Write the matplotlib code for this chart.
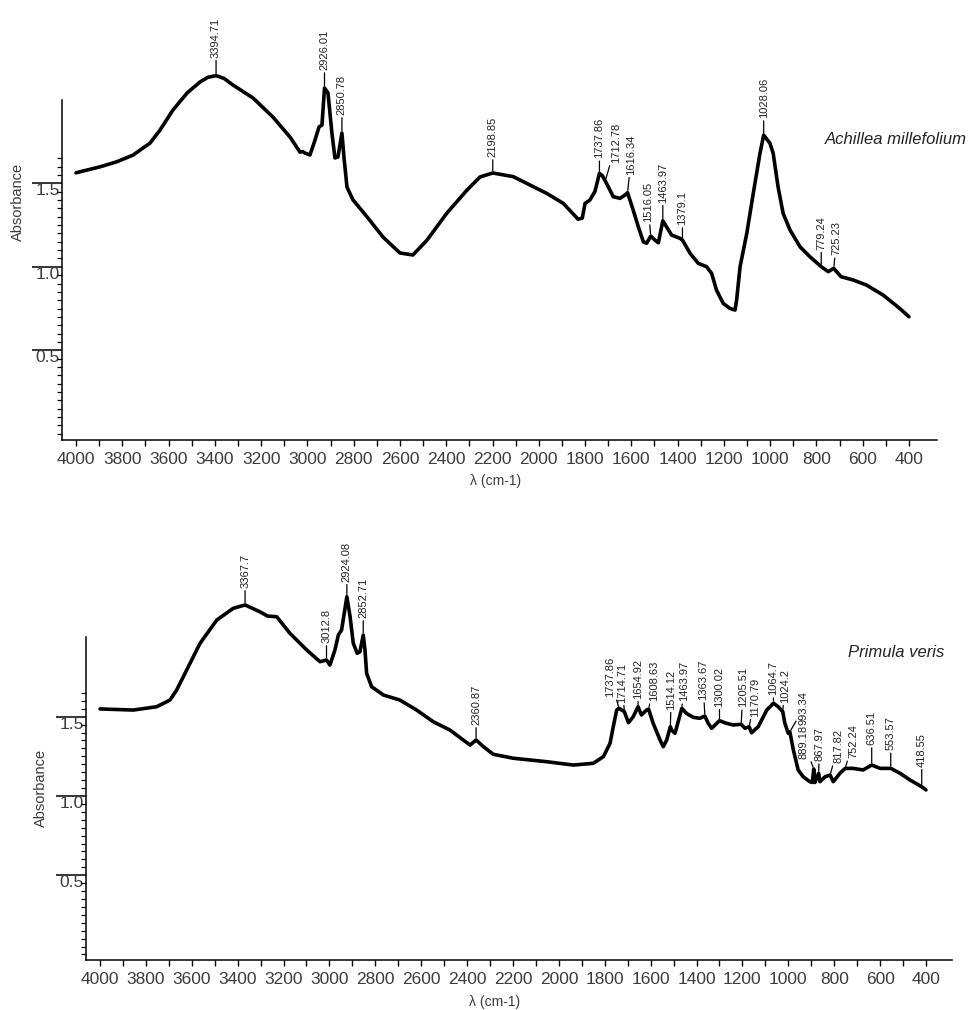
import numpy as np
import matplotlib.pyplot as plt
from matplotlib.ticker import FixedLocator

plt.rcParams['font.family'] = ['Liberation Sans', 'DejaVu Sans']

# FTIR absorbance, Achillea millefolium (wavenumber cm-1, absorbance)
achillea_wn = [4000, 3896, 3824, 3754, 3680, 3637, 3581, 3520, 3464, 3430, 3394.71, 3360,
               3322, 3235, 3149, 3075, 3032, 3020, 3010, 2989, 2967, 2950, 2937, 2926.01,
               2911, 2894, 2881, 2868, 2850.78, 2842, 2829, 2803, 2742, 2673, 2600, 2544,
               2483, 2397, 2310, 2254, 2198.85, 2110, 1966, 1894, 1830, 1812, 1800, 1779,
               1757, 1737.86, 1725, 1712.78, 1700, 1678, 1649, 1627, 1616.34, 1592, 1570,
               1548, 1534, 1516.05, 1498, 1483, 1463.97, 1448, 1426, 1390, 1379.1, 1346,
               1311, 1275, 1253, 1232, 1203, 1174, 1152, 1145, 1130, 1101, 1073, 1044,
               1028.06, 1001, 987, 966, 944, 914, 871, 828, 779.24, 749, 725.23, 694, 641,
               584, 512, 440, 400]
achillea_abs = [1.563, 1.599, 1.629, 1.669, 1.741, 1.819, 1.939, 2.041, 2.107, 2.135, 2.145, 2.128,
                2.089, 2.011, 1.897, 1.777, 1.687, 1.690, 1.681, 1.670, 1.759, 1.837, 1.849, 2.071,
                2.041, 1.801, 1.652, 1.658, 1.801, 1.658, 1.478, 1.401, 1.299, 1.178, 1.083, 1.071,
                1.160, 1.322, 1.460, 1.538, 1.562, 1.540, 1.440, 1.380, 1.285, 1.292, 1.380, 1.400,
                1.452, 1.560, 1.545, 1.514, 1.480, 1.420, 1.410, 1.430, 1.444, 1.340, 1.240,
                1.150, 1.141, 1.184, 1.160, 1.144, 1.276, 1.240, 1.190, 1.171, 1.160, 1.081,
                1.021, 1.001, 0.961, 0.861, 0.781, 0.751, 0.741, 0.801, 1.001, 1.201, 1.440, 1.680,
                1.789, 1.740, 1.680, 1.480, 1.320, 1.220, 1.120, 1.060, 1.001, 0.971, 0.991, 0.941, 0.921,
                0.891, 0.831, 0.751, 0.701]
achillea_peaks = [3394.71, 2926.01, 2850.78, 2198.85, 1737.86, 1712.78, 1616.34, 1516.05,
                  1463.97, 1379.1, 1028.06, 779.24, 725.23]

# FTIR absorbance, Primula veris
primula_wn = [4000, 3855, 3753, 3695, 3666, 3622, 3564, 3491, 3419, 3367.7, 3303, 3270, 3230,
              3172, 3099, 3041, 3012.8, 2998, 2976, 2961, 2947, 2924.08, 2910, 2896, 2879,
              2867, 2852.71, 2845, 2838, 2816, 2765, 2693, 2620, 2547, 2475, 2387, 2360.87,
              2329, 2286, 2199, 2053, 1937, 1850, 1806, 1777, 1763, 1748, 1737.86, 1714.71,
              1697, 1676, 1654.92, 1640, 1618, 1608.63, 1589, 1559, 1545, 1530, 1514.12, 1509,
              1494, 1463.97, 1444, 1414, 1386, 1363.67, 1349, 1334, 1300.02, 1269, 1240,
              1205.51, 1189, 1170.79, 1160, 1131, 1094, 1064.7, 1044, 1024.2, 1015, 1000,
              993.34, 978, 957, 935, 906, 895, 889.18, 884, 867.97, 862, 840, 817.82, 804,
              775, 752.24, 717, 674, 636.51, 600, 553.57, 513, 470, 418.55, 400]
primula_abs = [1.549, 1.542, 1.563, 1.605, 1.668, 1.795, 1.963, 2.110, 2.184, 2.205, 2.162, 2.135, 2.131,
               2.026, 1.921, 1.847, 1.858, 1.826, 1.921, 2.016, 2.047, 2.257, 2.131, 1.963, 1.900,
               1.910, 2.015, 1.921, 1.774, 1.689, 1.637, 1.605, 1.542, 1.468, 1.416, 1.321, 1.353,
               1.311, 1.263, 1.238, 1.216, 1.195, 1.206, 1.248, 1.332, 1.437, 1.542, 1.553, 1.532,
               1.462, 1.500, 1.563, 1.511, 1.542, 1.547, 1.458, 1.353, 1.311, 1.353, 1.437, 1.416,
               1.395, 1.553, 1.521, 1.496, 1.490, 1.504, 1.458, 1.427, 1.475, 1.458, 1.448,
               1.452, 1.427, 1.437, 1.399, 1.437, 1.542, 1.585, 1.563, 1.532, 1.458, 1.395,
               1.405, 1.290, 1.164, 1.121, 1.090, 1.085, 1.170, 1.085, 1.143, 1.090, 1.121, 1.132, 1.090,
               1.143, 1.174, 1.174, 1.164, 1.195, 1.174, 1.174, 1.143, 1.101, 1.058, 1.038]
primula_peaks = [3367.7, 3012.8, 2924.08, 2852.71, 2360.87, 1737.86, 1714.71, 1654.92, 1608.63,
                 1514.12, 1463.97, 1363.67, 1300.02, 1205.51, 1170.79, 1064.7, 1024.2, 993.34,
                 889.18, 867.97, 817.82, 752.24, 636.51, 553.57, 418.55]

x_major = list(range(4000, 399, -200))
x_minor = list(range(3900, 400, -200))
y_major = [0.5, 1.0, 1.5]
y_minor = [v for v in np.round(np.arange(0.0, 1.66, 0.05), 2) if v not in y_major]

# label offsets (pixels) from each peak to the foot of its label
achillea_off = [(0, 18), (0, 18), (0, 18), (0, 16), (0, 15), (11, 18), (4, 18), (-3, 14),
                (0, 18), (0, 15), (0, 17), (0, 17), (3, 13)]
primula_off = [(0, 17), (0, 17), (0, 15), (0, 17), (0, 15), (-9, 11), (-2, 9), (0, 8), (5, 8),
               (1, 17), (2, 7), (-2, 16), (0, 14), (2, 17), (6, 10), (0, 8), (2, 9), (14, 7),
               (-10, 10), (1, 12), (8, 12), (8, 10), (0, 20), (0, 18), (0, 20)]

TXT = '#3c3c3c'

fig = plt.figure(figsize=(9.69, 10.10), dpi=100)
ax1 = fig.add_axes([62 / 969, 1 - 440 / 1010, 875 / 969, 430 / 1010])
ax2 = fig.add_axes([86 / 969, 1 - 960 / 1010, 866 / 969, 430 / 1010])


def draw_spectrum(ax, wn, ab, peaks, offsets, name, xlim, ylim, name_xy, ylab_xy, xlab_xy):
    ax.plot(wn, ab, color='black', lw=2.6, solid_joinstyle='round', solid_capstyle='round')
    ax.set_xlim(*xlim)
    ax.set_ylim(*ylim)

    for side in ('top', 'right'):
        ax.spines[side].set_visible(False)
    ax.spines['left'].set_bounds(ylim[0], 2.0)
    for side in ('left', 'bottom'):
        ax.spines[side].set_linewidth(1.1)

    ax.xaxis.set_major_locator(FixedLocator(x_major))
    ax.xaxis.set_minor_locator(FixedLocator(x_minor))
    ax.yaxis.set_major_locator(FixedLocator(y_major))
    ax.yaxis.set_minor_locator(FixedLocator(y_minor))
    ax.tick_params(axis='x', which='both', direction='out', length=4.5, width=1.0,
                   labelsize=12.5, labelcolor=TXT, pad=4)
    ax.tick_params(axis='y', which='major', direction='out', length=21.6, width=1.1,
                   labelsize=12.5, labelcolor=TXT, pad=-20.0)
    ax.tick_params(axis='y', which='minor', direction='out', length=3.5, width=0.9)
    for lbl in ax.get_yticklabels():
        lbl.set_verticalalignment('top')

    ax.set_ylabel('Absorbance', fontsize=10.5, color=TXT)
    ax.yaxis.set_label_coords(*ylab_xy)
    ax.set_xlabel('λ (cm-1)', fontsize=10, color=TXT)
    ax.xaxis.set_label_coords(*xlab_xy)

    ax.text(name_xy[0], name_xy[1], name, transform=ax.transAxes, ha='right', va='center',
            fontsize=12, style='italic', color='#222222')

    for p, (dx, dy) in zip(peaks, offsets):
        y = np.interp(p, wn[::-1], ab[::-1])
        ax.annotate(str(p), xy=(p, y), xytext=(dx, dy), textcoords='offset pixels',
                    rotation=90, ha='center', va='bottom', fontsize=8, color='#222222',
                    arrowprops=dict(arrowstyle='-', lw=0.9, color='black',
                                    shrinkA=0, shrinkB=1.5))


draw_spectrum(ax1, achillea_wn, achillea_abs, achillea_peaks, achillea_off,
              'Achillea millefolium', (4060.5, 279), (-0.037, 2.538),
              (1.034, 0.70), (-0.042, 0.553), (0.495, -0.079))
draw_spectrum(ax2, primula_wn, primula_abs, primula_peaks, primula_off,
              'Primula veris', (4061, 286.6), (-0.035, 2.678),
              (0.991, 0.716), (-0.044, 0.40), (0.472, -0.081))

fig.savefig('out.png', dpi=100)
